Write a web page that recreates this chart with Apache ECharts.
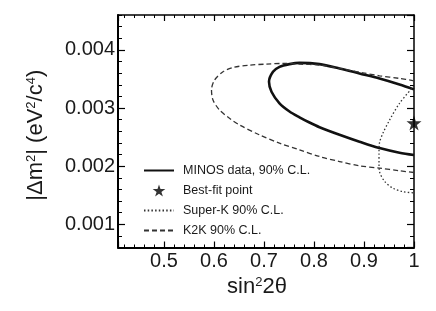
<!DOCTYPE html>
<html><head><meta charset="utf-8">
<script src="https://cdn.jsdelivr.net/npm/echarts@6/dist/echarts.min.js"></script>
<style>html,body{margin:0;padding:0;background:#fff}#c{width:436px;height:311px}</style>
</head><body><div id="c"></div>
<script>
// ---- data ----
const seriesNames = ['MINOS data, 90% C.L.', 'Best-fit point', 'Super-K 90% C.L.', 'K2K 90% C.L.'];
const minosData = [
  [1.000, 0.003320], [0.971, 0.003406], [0.931, 0.003509], [0.891, 0.003595], [0.851, 0.003681],
  [0.811, 0.003755], [0.771, 0.003777], [0.751, 0.003755], [0.731, 0.003708], [0.718, 0.003623],
  [0.710, 0.003451], [0.715, 0.003280], [0.731, 0.003080], [0.751, 0.002940], [0.771, 0.002840],
  [0.791, 0.002750], [0.811, 0.002670], [0.851, 0.002540], [0.891, 0.002420], [0.931, 0.002310],
  [0.971, 0.002230], [1.000, 0.002190]
];
const bestFit = [[1.0, 0.00274]];
const superKData = [
  [1.000, 0.003380], [0.971, 0.003080], [0.951, 0.002790], [0.938, 0.002570], [0.931, 0.002400],
  [0.930, 0.002220], [0.930, 0.002050], [0.931, 0.001910], [0.941, 0.001740], [0.958, 0.001620],
  [0.978, 0.001560], [1.000, 0.001540]
];
const k2kData = [
  [1.000, 0.003468], [0.971, 0.003509], [0.931, 0.003554], [0.898, 0.003605], [0.851, 0.003681],
  [0.811, 0.003738], [0.771, 0.003755], [0.738, 0.003767], [0.705, 0.003755], [0.671, 0.003738],
  [0.638, 0.003698], [0.618, 0.003623], [0.601, 0.003480], [0.595, 0.003309], [0.598, 0.003137],
  [0.611, 0.002966], [0.631, 0.002823], [0.651, 0.002708], [0.691, 0.002537], [0.731, 0.002395],
  [0.771, 0.002280], [0.811, 0.002165], [0.851, 0.002079], [0.891, 0.002005], [0.931, 0.001966],
  [0.971, 0.001920], [1.000, 0.001890]
];
const xRange = [0.408, 1.0];
const yRange = [0.0006, 0.0046];
const yMinorStep = 0.0002;

// ---- styling ----
const FONT = '"Liberation Sans", Arial, Helvetica, sans-serif';
const TXT = '#1a1a1a';
const STAR = 'path://M50,0L61.2,34.5L97.6,34.5L68.2,55.9L79.4,90.5L50,69.1L20.6,90.5L31.8,55.9L2.4,34.5L38.8,34.5Z';

const chart = echarts.init(document.getElementById('c'), null, {renderer: 'canvas'});

function xAx(pos, showLabels, lw) {
  return {
    type: 'value', position: pos, min: xRange[0], max: xRange[1],
    axisLine: {show: true, onZero: false, lineStyle: {color: '#000', width: lw}},
    axisTick: {show: true, inside: true, length: 6, lineStyle: {color: '#000', width: 1.2}},
    minorTick: {show: true, splitNumber: 5, length: 3, lineStyle: {color: '#000', width: 1}},
    splitLine: {show: false},
    axisLabel: {show: showLabels, fontSize: 20, color: TXT, fontFamily: FONT, margin: 4,
      showMinLabel: false}
  };
}
function yAx(pos, minor, lw, showLabels) {
  const a = {
    type: 'value', position: pos, min: yRange[0], max: yRange[1],
    axisLine: {show: !minor, onZero: false, lineStyle: {color: '#000', width: lw}},
    axisTick: {show: true, inside: true, length: minor ? 4 : 7, lineStyle: {color: '#000', width: minor ? 1 : 1.2}},
    splitLine: {show: false},
    axisLabel: {show: showLabels, fontSize: 20, color: TXT, fontFamily: FONT, margin: 3,
      showMinLabel: false, showMaxLabel: false, formatter: v => v.toFixed(3)}
  };
  if (minor) a.interval = yMinorStep;
  return a;
}

const xa0 = xAx('bottom', true, 2);
xa0.name = '{a|sin}{s|2}{a|2θ}';
xa0.nameLocation = 'middle';
xa0.nameGap = 26;
xa0.nameTextStyle = {fontFamily: FONT, color: TXT, fontSize: 22, padding: [0, 18, 0, 0],
  rich: {a: {fontFamily: FONT, color: TXT, fontSize: 22}, s: {fontFamily: FONT, color: TXT, fontSize: 13, verticalAlign: 'top'}}};

const ya0 = yAx('left', false, 2, true);
ya0.name = '{a||Δm}{s|2}{a|| (eV}{s|2}{a|/c}{s|4}{a|)}';
ya0.nameLocation = 'middle';
ya0.nameGap = 71;
ya0.nameTextStyle = {fontFamily: FONT, color: TXT, fontSize: 22, padding: [0, 8, 0, 0],
  rich: {a: {fontFamily: FONT, color: TXT, fontSize: 22}, s: {fontFamily: FONT, color: TXT, fontSize: 13, verticalAlign: 'top'}}};

chart.setOption({
  animation: false,
  backgroundColor: '#fff',
  grid: {left: 118, right: 22, top: 15, bottom: 63.5, containLabel: false},
  xAxis: [xa0, xAx('top', false, 1.5)],
  yAxis: [ya0, yAx('left', true, 2, false), yAx('right', false, 1.5, false), yAx('right', true, 1.5, false)],
  legend: {
    data: [
      {name: seriesNames[0], itemStyle: {opacity: 0}},
      {name: seriesNames[1]},
      {name: seriesNames[2], itemStyle: {opacity: 0}},
      {name: seriesNames[3], itemStyle: {opacity: 0}}
    ],
    orient: 'vertical', left: 143, top: 164, padding: 0,
    itemWidth: 30, itemHeight: 12, itemGap: 7,
    textStyle: {fontSize: 12.5, color: TXT, fontFamily: FONT, padding: [0, 0, 0, 4]}
  },
  series: [
    {name: seriesNames[0], type: 'line', data: minosData, symbol: 'none', smooth: 0.3,
      lineStyle: {color: '#111', width: 2.6}, itemStyle: {color: '#111'}},
    {name: seriesNames[1], type: 'scatter', data: bestFit, symbol: STAR, symbolSize: 15, clip: false,
      itemStyle: {color: '#000'}, z: 5},
    {name: seriesNames[2], type: 'line', data: superKData, symbol: 'none', smooth: 0.3,
      lineStyle: {color: '#333', width: 1.3, type: [1.5, 2.2]}, itemStyle: {color: '#333'}},
    {name: seriesNames[3], type: 'line', data: k2kData, symbol: 'none', smooth: 0.3,
      lineStyle: {color: '#333', width: 1.3, type: [5, 3]}, itemStyle: {color: '#333'}}
  ]
});
</script></body></html>
